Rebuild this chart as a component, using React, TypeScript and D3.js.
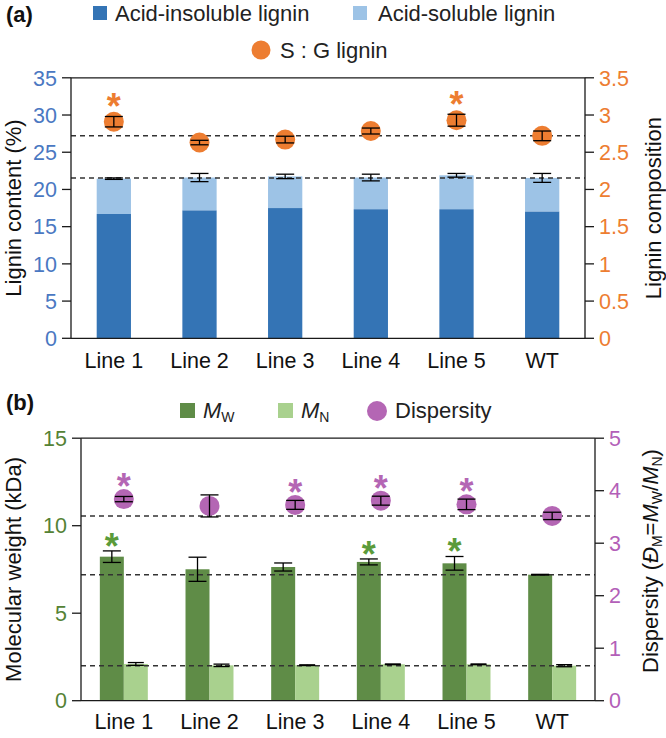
import React from 'react';
import * as d3 from 'd3';

// ---------- data ----------
const categories = ['Line 1', 'Line 2', 'Line 3', 'Line 4', 'Line 5', 'WT'];

// panel (a)
const acidInsoluble = [16.7, 17.2, 17.5, 17.35, 17.35, 17.05];
const acidSoluble = [4.75, 4.4, 4.25, 4.25, 4.55, 4.5];
const totalLigninErr = [0.1, 0.55, 0.3, 0.45, 0.25, 0.6];
const sgRatio = [2.91, 2.63, 2.67, 2.785, 2.93, 2.72];
const sgErr = [0.07, 0.03, 0.045, 0.04, 0.08, 0.065];
const sgSignificant = [true, false, false, false, true, false];
const ligninTicks = [0, 5, 10, 15, 20, 25, 30, 35];
const sgTicks = [0, 0.5, 1, 1.5, 2, 2.5, 3, 3.5];

// panel (b)
const mw = [8.23, 7.51, 7.64, 7.93, 7.85, 7.2];
const mwErr = [0.33, 0.69, 0.23, 0.17, 0.39, 0.02];
const mn = [2.1, 2.02, 2.03, 2.08, 2.08, 2.0];
const mnErr = [0.08, 0.07, 0.02, 0.02, 0.02, 0.06];
const dispersity = [3.84, 3.71, 3.73, 3.81, 3.74, 3.52];
const dispErr = [0.05, 0.21, 0.085, 0.085, 0.1, 0.07];
const mwSignificant = [true, false, false, true, true, false];
const dispSignificant = [true, false, true, true, true, false];
const mwTicks = [0, 5, 10, 15];
const dispTicks = [0, 1, 2, 3, 4, 5];

// ---------- styles ----------
const FONT = '"Liberation Sans", Arial, Helvetica, sans-serif';
const C = {
  darkBlue: '#3474b5',
  lightBlue: '#9dc3e6',
  blueText: '#4a78c2',
  orange: '#ed7d31',
  darkGreen: '#5f8c47',
  lightGreen: '#a9d18e',
  greenText: '#548235',
  greenStar: '#5b9b3a',
  purple: '#b466b4',
  purpleText: '#b35fb8',
  axis: '#1a1a1a',
  dash: '#333333',
};

const TICK_FS = 21.5;
const LABEL_FS = 22;

function ErrorBar({ x, y1, y2, hw = 9 }: { x: number; y1: number; y2: number; hw?: number }) {
  return (
    <g stroke="#000" strokeWidth={1.3}>
      <line x1={x} x2={x} y1={y1} y2={y2} />
      <line x1={x - hw} x2={x + hw} y1={y1} y2={y1} />
      <line x1={x - hw} x2={x + hw} y1={y2} y2={y2} />
    </g>
  );
}

function Star({ x, cy, color }: { x: number; cy: number; color: string }) {
  const fs = 36;
  return (
    <text x={x} y={cy + fs * 0.58} textAnchor="middle" fontSize={fs} fontWeight="bold" fill={color} fontFamily={FONT}>
      *
    </text>
  );
}

function Frame({
  left, right, top, bottom, yL, yR, ticksL, ticksR, colL, colR,
}: any) {
  return (
    <g>
      <line x1={left} x2={right} y1={top} y2={top} stroke={C.axis} strokeWidth={1.3} />
      <line x1={left} x2={left} y1={top} y2={bottom} stroke={C.axis} strokeWidth={1.3} />
      <line x1={right} x2={right} y1={top} y2={bottom} stroke={C.axis} strokeWidth={1.3} />
      <line x1={left} x2={right} y1={bottom} y2={bottom} stroke={C.axis} strokeWidth={1.3} />
      {ticksL.map((t: number) => (
        <g key={'l' + t}>
          <line x1={left - 9} x2={left} y1={yL(t)} y2={yL(t)} stroke={C.axis} strokeWidth={1.3} />
          <text x={left - 14} y={yL(t)} dy="0.36em" textAnchor="end" fontSize={TICK_FS} fill={colL} fontFamily={FONT}>
            {String(t)}
          </text>
        </g>
      ))}
      {ticksR.map((t: number) => (
        <g key={'r' + t}>
          <line x1={right} x2={right + 9} y1={yR(t)} y2={yR(t)} stroke={C.axis} strokeWidth={1.3} />
          <text x={right + 14} y={yR(t)} dy="0.36em" textAnchor="start" fontSize={TICK_FS} fill={colR} fontFamily={FONT}>
            {String(t)}
          </text>
        </g>
      ))}
    </g>
  );
}

export default function App() {
  // ----- panel (a) scales -----
  const aL = 71, aR = 585, aT = 77.8, aB = 338.3;
  const xA = d3.scaleBand<string>().domain(categories).range([aL, aR]).paddingInner(0.6).paddingOuter(0.3);
  const yA = d3.scaleLinear().domain([0, 35]).range([aB, aT]);
  const yA2 = d3.scaleLinear().domain([0, 3.5]).range([aB, aT]);
  const wtIdx = categories.indexOf('WT');
  const wtTotal = acidInsoluble[wtIdx] + acidSoluble[wtIdx];
  const wtSG = sgRatio[wtIdx];

  // ----- panel (b) scales -----
  const bL = 81, bR = 595, bT = 438.2, bB = 700.7;
  const xB = d3.scaleBand<string>().domain(categories).range([bL, bR]).paddingInner(0.44).paddingOuter(0.22);
  const xB1 = d3.scaleBand<string>().domain(['mw', 'mn']).range([0, xB.bandwidth()]).padding(0);
  const yB = d3.scaleLinear().domain([0, 15]).range([bB, bT]);
  const yB2 = d3.scaleLinear().domain([0, 5]).range([bB, bT]);

  const dashA = [yA(wtTotal), yA2(wtSG)];
  const dashB = [yB(mn[wtIdx]), yB(mw[wtIdx]), yB2(dispersity[wtIdx])];

  return (
    <svg
      width={666}
      height={738}
      style={{ position: 'absolute', left: 0, top: 0, background: '#fff' }}
      fontFamily={FONT}
    >
      <rect x={0} y={0} width={666} height={738} fill="#fff" />

      {/* ================= PANEL (a) ================= */}
      <text x={6} y={21.5} fontSize={22} fontWeight="bold" fill="#111">(a)</text>
      <rect x={93} y={6} width={14} height={14} fill={C.darkBlue} />
      <text x={115} y={20.5} fontSize={LABEL_FS} fill="#222">Acid-insoluble lignin</text>
      <rect x={353} y={6} width={14} height={14} fill={C.lightBlue} />
      <text x={378} y={20.5} fontSize={LABEL_FS} fill="#222">Acid-soluble lignin</text>
      <circle cx={261} cy={50} r={9.5} fill={C.orange} />
      <text x={280} y={58} fontSize={LABEL_FS} fill="#222">S : G lignin</text>

      {categories.map((c, i) => {
        const x0 = xA(c)!;
        const w = xA.bandwidth();
        const total = acidInsoluble[i] + acidSoluble[i];
        return (
          <g key={'a' + c}>
            <rect x={x0} y={yA(acidInsoluble[i])} width={w} height={yA(0) - yA(acidInsoluble[i])} fill={C.darkBlue} />
            <rect x={x0} y={yA(total)} width={w} height={yA(acidInsoluble[i]) - yA(total)} fill={C.lightBlue} />
          </g>
        );
      })}

      {dashA.map((y, k) => (
        <line key={'da' + k} x1={aL} x2={aR} y1={y} y2={y} stroke={C.dash} strokeWidth={1.5} strokeDasharray="5,4" />
      ))}

      {categories.map((c, i) => {
        const cx = xA(c)! + xA.bandwidth() / 2;
        const total = acidInsoluble[i] + acidSoluble[i];
        return (
          <g key={'ae' + c}>
            <ErrorBar x={cx} y1={yA(total + totalLigninErr[i])} y2={yA(total - totalLigninErr[i])} />
            <circle cx={cx} cy={yA2(sgRatio[i])} r={10} fill={C.orange} />
            <ErrorBar x={cx} y1={yA2(sgRatio[i] + sgErr[i])} y2={yA2(sgRatio[i] - sgErr[i])} />
            {sgSignificant[i] && <Star x={cx} cy={yA2(sgRatio[i]) - 24} color={C.orange} />}
          </g>
        );
      })}

      <Frame left={aL} right={aR} top={aT} bottom={aB} yL={yA} yR={yA2} ticksL={ligninTicks} ticksR={sgTicks} colL={C.blueText} colR={C.orange} />

      {categories.map((c) => (
        <text key={'xa' + c} x={xA(c)! + xA.bandwidth() / 2} y={368} textAnchor="middle" fontSize={TICK_FS} fill="#111">
          {c}
        </text>
      ))}

      <text transform={`translate(21,${(aT + aB) / 2}) rotate(-90)`} textAnchor="middle" fontSize={LABEL_FS} fill="#111">
        Lignin content (%)
      </text>
      <text transform={`translate(661,${(aT + aB) / 2}) rotate(-90)`} textAnchor="middle" fontSize={LABEL_FS} fill="#111">
        Lignin composition
      </text>

      {/* ================= PANEL (b) ================= */}
      <text x={6} y={410} fontSize={22} fontWeight="bold" fill="#111">(b)</text>
      <rect x={180} y={403} width={15} height={15} fill={C.darkGreen} />
      <text x={203} y={418} fontSize={LABEL_FS} fill="#222">
        <tspan fontStyle="italic">M</tspan>
        <tspan fontSize={14} dy={4}>W</tspan>
      </text>
      <rect x={278} y={403} width={15} height={15} fill={C.lightGreen} />
      <text x={301} y={418} fontSize={LABEL_FS} fill="#222">
        <tspan fontStyle="italic">M</tspan>
        <tspan fontSize={14} dy={4}>N</tspan>
      </text>
      <circle cx={377} cy={411} r={10} fill={C.purple} />
      <text x={395} y={418} fontSize={LABEL_FS} fill="#222">Dispersity</text>

      {categories.map((c, i) => {
        const g0 = xB(c)!;
        const w = xB1.bandwidth();
        return (
          <g key={'b' + c}>
            <rect x={g0 + xB1('mw')!} y={yB(mw[i])} width={w} height={yB(0) - yB(mw[i])} fill={C.darkGreen} />
            <rect x={g0 + xB1('mn')!} y={yB(mn[i])} width={w} height={yB(0) - yB(mn[i])} fill={C.lightGreen} />
          </g>
        );
      })}

      {dashB.map((y, k) => (
        <line key={'db' + k} x1={bL} x2={bR} y1={y} y2={y} stroke={C.dash} strokeWidth={1.5} strokeDasharray="5,4" />
      ))}

      {categories.map((c, i) => {
        const g0 = xB(c)!;
        const w = xB1.bandwidth();
        const cxW = g0 + xB1('mw')! + w / 2;
        const cxN = g0 + xB1('mn')! + w / 2;
        const cx = g0 + xB.bandwidth() / 2;
        return (
          <g key={'be' + c}>
            <ErrorBar x={cxW} y1={yB(mw[i] + mwErr[i])} y2={yB(mw[i] - mwErr[i])} />
            <ErrorBar x={cxN} y1={yB(mn[i] + mnErr[i])} y2={yB(mn[i] - mnErr[i])} hw={8} />
            {mwSignificant[i] && <Star x={cxW} cy={yB(mw[i] + mwErr[i]) - 13} color={C.greenStar} />}
            <circle cx={cx} cy={yB2(dispersity[i])} r={10} fill={C.purple} />
            <ErrorBar x={cx} y1={yB2(dispersity[i] + dispErr[i])} y2={yB2(dispersity[i] - dispErr[i])} />
            {dispSignificant[i] && <Star x={cx} cy={yB2(dispersity[i]) - 21} color={C.purple} />}
          </g>
        );
      })}

      <Frame left={bL} right={bR} top={bT} bottom={bB} yL={yB} yR={yB2} ticksL={mwTicks} ticksR={dispTicks} colL={C.greenText} colR={C.purpleText} />

      {categories.map((c) => (
        <text key={'xb' + c} x={xB(c)! + xB.bandwidth() / 2} y={729} textAnchor="middle" fontSize={TICK_FS} fill="#111">
          {c}
        </text>
      ))}

      <text transform={`translate(21,${(bT + bB) / 2}) rotate(-90)`} textAnchor="middle" fontSize={LABEL_FS} fill="#111">
        Molecular weight (kDa)
      </text>
      <text transform={`translate(658,561) rotate(-90)`} textAnchor="middle" fontSize={LABEL_FS} fill="#111">
        <tspan>Dispersity (</tspan>
        <tspan fontStyle="italic">Đ</tspan>
        <tspan fontSize={14} dy={4}>M</tspan>
        <tspan dy={-4}>=</tspan>
        <tspan fontStyle="italic">M</tspan>
        <tspan fontSize={14} dy={4}>W</tspan>
        <tspan dy={-4}>/</tspan>
        <tspan fontStyle="italic">M</tspan>
        <tspan fontSize={14} dy={4}>N</tspan>
        <tspan dy={-4}>)</tspan>
      </text>
    </svg>
  );
}
